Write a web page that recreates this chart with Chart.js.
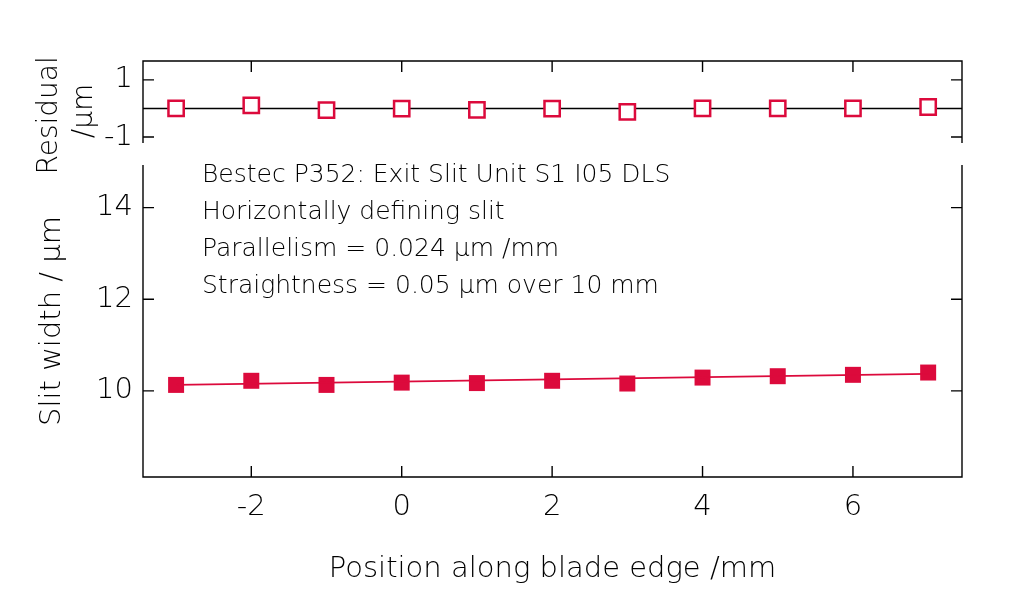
<!DOCTYPE html>
<html lang="en">
<head>
<meta charset="UTF-8" />
<title>Slit width along blade edge</title>
<script src="https://cdn.jsdelivr.net/npm/chart.js"></script>
<style>
  body { margin: 0; background: #fff; }
  #wrap { position: relative; width: 1024px; height: 589px; }
  #wrap canvas { position: absolute; left: 0; top: 0; }
</style>
</head>
<body>
<div id="wrap">
  <canvas id="mainChart" width="1024" height="589"></canvas>
  <canvas id="residChart" width="1024" height="200"></canvas>
</div>
<script>
  // measured data
  const positions = [-3, -2, -1, 0, 1, 2, 3, 4, 5, 6, 7];
  const slitWidth = [10.13, 10.22, 10.13, 10.18, 10.17, 10.22, 10.16, 10.29, 10.32, 10.35, 10.40];
  const residuals = [0.0, 0.11, -0.06, -0.01, -0.05, -0.01, -0.12, 0.0, 0.0, 0.0, 0.05];
  // linear fit end points
  const fitX = [-3, 7];
  const fitY = [10.13, 10.37];
  // axis ticks
  const xTicks = [-2, 0, 2, 4, 6];
  const yTicks = [10, 12, 14];
  const residTicks = [-1, 1];
  const notes = [
    'Bestec P352: Exit Slit Unit S1 I05 DLS',
    'Horizontally defining slit',
    'Parallelism = 0.024 \u00b5m /mm',
    'Straightness = 0.05 \u00b5m over 10 mm'
  ];

  const FONT = "'DejaVu Sans', sans-serif";
  const ink = '#000000';
  const red = '#dc0a3c';
  const TICK = 11;

  const fixTicks = list => scale => { scale.ticks = list.map(value => ({ value })); };
  const tickFont = { family: FONT, size: 29, weight: 300 };

  const mainFrame = {
    id: 'mainFrame',
    afterDraw(chart) {
      const { ctx, chartArea: a, scales: { x, y } } = chart;
      ctx.save();
      ctx.strokeStyle = ink;
      ctx.lineWidth = 1.4;
      ctx.beginPath();
      ctx.moveTo(a.left, a.top); ctx.lineTo(a.left, a.bottom);
      ctx.lineTo(a.right, a.bottom); ctx.lineTo(a.right, a.top);
      xTicks.forEach(v => {
        const px = x.getPixelForValue(v);
        ctx.moveTo(px, a.bottom); ctx.lineTo(px, a.bottom - TICK);
      });
      yTicks.forEach(v => {
        const py = y.getPixelForValue(v);
        ctx.moveTo(a.left, py); ctx.lineTo(a.left + TICK, py);
        ctx.moveTo(a.right, py); ctx.lineTo(a.right - TICK, py);
      });
      ctx.stroke();

      ctx.fillStyle = ink;
      ctx.font = '300 25px ' + FONT;
      ctx.textBaseline = 'alphabetic';
      notes.forEach((t, i) => ctx.fillText(t, a.left + 59, a.top + 17 + 37 * i));
      ctx.restore();
    }
  };

  new Chart(document.getElementById('mainChart'), {
    type: 'scatter',
    data: {
      datasets: [
        {
          type: 'line',
          data: fitX.map((v, i) => ({ x: v, y: fitY[i] })),
          borderColor: red,
          borderWidth: 1.6,
          pointRadius: 0
        },
        {
          data: positions.map((v, i) => ({ x: v, y: slitWidth[i] })),
          pointStyle: 'rect',
          pointRadius: 11.3,
          backgroundColor: red,
          borderWidth: 0
        }
      ]
    },
    options: {
      responsive: false,
      animation: false,
      devicePixelRatio: 1,
      layout: { padding: { left: 0, top: 165, right: 62, bottom: 0 } },
      plugins: { legend: { display: false }, tooltip: { enabled: false } },
      scales: {
        x: {
          type: 'linear',
          min: -3.44,
          max: 7.45,
          afterBuildTicks: fixTicks(xTicks),
          afterFit: s => { s.height = 112; },
          grid: { display: false, drawTicks: false },
          border: { display: false },
          ticks: { font: tickFont, color: ink, padding: 13 },
          title: {
            display: true,
            text: 'Position along blade edge /mm',
            font: tickFont,
            color: ink,
            padding: { top: 0, bottom: 2 }
          }
        },
        y: {
          min: 8.12,
          max: 14.93,
          afterBuildTicks: fixTicks(yTicks),
          afterFit: s => { s.width = 143; },
          grid: { display: false, drawTicks: false },
          border: { display: false },
          ticks: { font: tickFont, color: ink, padding: 10 },
          title: {
            display: true,
            text: 'Slit width / \u00b5m',
            font: tickFont,
            color: ink,
            padding: { top: 35, bottom: 0 }
          }
        }
      }
    },
    plugins: [mainFrame]
  });

  const residFrame = {
    id: 'residFrame',
    beforeDatasetsDraw(chart) {
      const { ctx, chartArea: a, scales: { y } } = chart;
      const py = y.getPixelForValue(0);
      ctx.save();
      ctx.strokeStyle = ink;
      ctx.lineWidth = 1.4;
      ctx.beginPath();
      ctx.moveTo(a.left, py); ctx.lineTo(a.right, py);
      ctx.stroke();
      ctx.restore();
    },
    afterDraw(chart) {
      const { ctx, chartArea: a, scales: { x, y } } = chart;
      ctx.save();
      ctx.strokeStyle = ink;
      ctx.lineWidth = 1.4;
      ctx.beginPath();
      ctx.moveTo(a.left, a.bottom); ctx.lineTo(a.left, a.top);
      ctx.lineTo(a.right, a.top); ctx.lineTo(a.right, a.bottom);
      xTicks.forEach(v => {
        const px = x.getPixelForValue(v);
        ctx.moveTo(px, a.top); ctx.lineTo(px, a.top + TICK);
      });
      residTicks.forEach(v => {
        const py = y.getPixelForValue(v);
        ctx.moveTo(a.left, py); ctx.lineTo(a.left + TICK, py);
        ctx.moveTo(a.right, py); ctx.lineTo(a.right - TICK, py);
      });
      ctx.stroke();
      ctx.restore();
    }
  };

  new Chart(document.getElementById('residChart'), {
    type: 'scatter',
    data: {
      datasets: [{
        data: positions.map((v, i) => ({ x: v, y: residuals[i] })),
        pointStyle: 'rect',
        pointRadius: 10.8,
        backgroundColor: '#ffffff',
        borderColor: red,
        borderWidth: 2.5
      }]
    },
    options: {
      responsive: false,
      animation: false,
      devicePixelRatio: 1,
      layout: { padding: { left: 0, top: 61, right: 62, bottom: 57 } },
      plugins: { legend: { display: false }, tooltip: { enabled: false } },
      scales: {
        x: { type: 'linear', min: -3.44, max: 7.45, display: false },
        y: {
          min: -1.21,
          max: 1.66,
          afterBuildTicks: fixTicks(residTicks),
          afterFit: s => { s.width = 143; },
          grid: { display: false, drawTicks: false },
          border: { display: false },
          ticks: { font: tickFont, color: ink, padding: 10 },
          title: {
            display: true,
            text: ['Residual   ', '/\u00b5m  '],
            font: { family: FONT, size: 28, weight: 300, lineHeight: 1.25 },
            color: ink,
            padding: { top: 32.5, bottom: 0 }
          }
        }
      }
    },
    plugins: [residFrame]
  });
</script>
</body>
</html>
